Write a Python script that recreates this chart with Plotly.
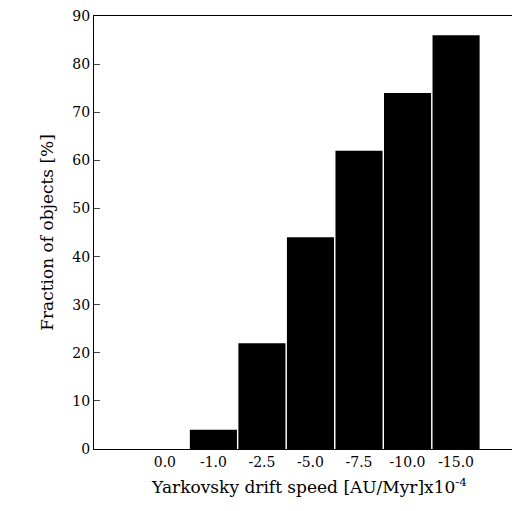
import plotly.graph_objects as go

speeds = ["0.0", "-1.0", "-2.5", "-5.0", "-7.5", "-10.0", "-15.0"]
fractions = [0, 4, 22, 44, 62, 74, 86]

fig = go.Figure()
fig.add_trace(go.Bar(
    x=list(range(len(speeds))),
    y=fractions,
    marker=dict(color='black', line=dict(width=0)),
    width=0.97,
))

fig.update_layout(
    width=520, height=511,
    margin=dict(l=86, r=3, t=8, b=70, autoexpand=False),
    plot_bgcolor='white', paper_bgcolor='white',
    font=dict(family='DejaVu Serif', size=14, color='black'),
    showlegend=False,
    xaxis=dict(
        tickvals=list(range(len(speeds))), ticktext=speeds,
        range=[-1.46, 7.42], showgrid=False, zeroline=False,
        showline=True, linecolor='black', linewidth=1, mirror=True,
        ticks='', automargin=False,
        title=dict(text='Yarkovsky drift speed [AU/Myr]x10<sup>-4</sup>', standoff=12),
    ),
    yaxis=dict(
        range=[0, 90.02], tickvals=list(range(0, 91, 10)), showgrid=False, zeroline=False,
        showline=True, linecolor='black', linewidth=1, mirror='ticks',
        ticks='inside', ticklen=6, automargin=False,
        title=dict(text='Fraction of objects [%]', standoff=14),
    ),
)

fig.write_html("out.html")
